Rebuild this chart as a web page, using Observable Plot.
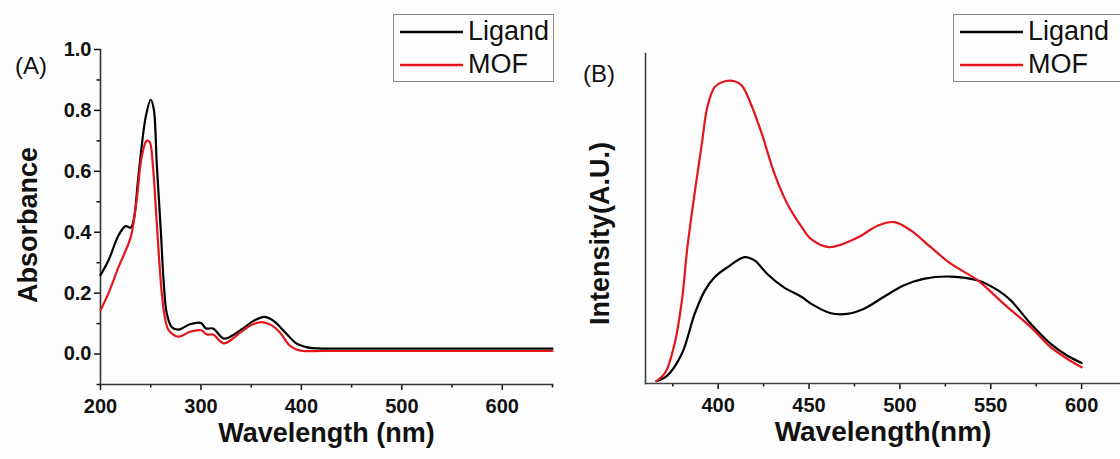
<!DOCTYPE html>
<html>
<head>
<meta charset="utf-8">
<script src="https://cdn.jsdelivr.net/npm/d3@7"></script>
<script src="https://cdn.jsdelivr.net/npm/@observablehq/plot@0.6"></script>
<style>
  html, body { margin: 0; padding: 0; background: #fdfdfd; }
  #wrap { position: relative; width: 1120px; height: 459px; overflow: hidden; background: #fdfdfd; }
  .panel { position: absolute; top: 0; }
  #pa svg g[aria-label$="tick label"], #pa svg g[aria-label$="tick label"] text { font-size: 20px !important; font-weight: bold !important; }
  #pb svg g[aria-label$="tick label"], #pb svg g[aria-label$="tick label"] text { font-size: 20px !important; font-weight: bold !important; }
  .legend { position: absolute; border: 1px solid #888; background: #fdfdfd; font-family: "Liberation Sans", Arial, sans-serif; font-size: 27px; color: #111; box-sizing: border-box; }
  .legend .row { display: flex; align-items: center; height: 33px; }
  .legend svg { margin-right: 5px; }
  .tag { position: absolute; font-family: "Liberation Sans", Arial, sans-serif; font-size: 24px; color: #111; line-height: 1; }
</style>
</head>
<body>
<div id="wrap"></div>
<script>
// ---------- Panel A: UV-Vis absorbance ----------
const ligandAbsWl = [200,208,218,225,230,233,238,245,250,253,256,260,263,266,271,278,289,300,305,312,323,340,352,363,372,385,395,406,420,450,500,550,600,650];
const ligandAbs   = [0.259,0.308,0.39,0.42,0.415,0.44,0.592,0.778,0.835,0.805,0.625,0.407,0.232,0.133,0.088,0.08,0.098,0.102,0.084,0.084,0.051,0.08,0.108,0.122,0.11,0.067,0.035,0.022,0.018,0.018,0.018,0.018,0.018,0.018];
const mofAbsWl = [200,208,218,228,231,236,241,246,249,252,255,258,261,264,268,278,289,300,306,312,323,340,350,360,370,378,388,395,402,420,450,500,550,600,650];
const mofAbs   = [0.144,0.2,0.286,0.363,0.396,0.505,0.647,0.70,0.696,0.625,0.483,0.33,0.2,0.122,0.078,0.057,0.073,0.078,0.064,0.064,0.035,0.073,0.095,0.105,0.095,0.073,0.029,0.015,0.01,0.01,0.01,0.01,0.01,0.01,0.01];
const absXTicks = [200,300,400,500,600];
const absXMinor = [250,350,450,550,650];
const absYTicks = [0.0,0.2,0.4,0.6,0.8,1.0];
const absYMinor = [-0.1,0.1,0.3,0.5,0.7,0.9];

// ---------- Panel B: photoluminescence ----------
const ligandPLWl = [366,372,380,387,392.5,398,405,414.5,420,427,436,446,451,462,471,480,491,502,513,528,543,554,561,572,583,592,600];
const ligandPL   = [0.7,2.4,9,21,28,32.2,35.2,38.3,37.3,33.2,29.2,26.2,24.2,21.3,21.1,22.6,26.2,29.7,31.7,32.4,31.2,28.2,25.2,18.1,12,8.5,6.2];
const mofPLWl = [366,371,376,380,383,387,391,394,398,402,409,413,418,424,431,438,446,451,461,477,488,497,506,517,528,543,557,572,583,592,600];
const mofPL   = [0.7,3.4,12,25,41,57.5,72.6,83.7,89.8,91.3,91.6,90.3,84.7,75.7,63.5,54.5,47.4,43.8,41.3,44.3,47.9,48.9,46.4,41.3,36.3,31.2,24.2,17.1,11,7.5,4.9];
const plXTicks = [400,450,500,550,600];
const plXMinor = [375,425,475,525,575];

const seriesNames = ["Ligand","MOF"];
const seriesColors = ["#000000","#e3161c"];

const toRows = (wl, vals, s) => wl.map((w,i)=>({wl:w, v:vals[i], s}));
const absData = [...toRows(ligandAbsWl, ligandAbs, "Ligand"), ...toRows(mofAbsWl, mofAbs, "MOF")];
const plData  = [...toRows(ligandPLWl, ligandPL, "Ligand"), ...toRows(mofPLWl, mofPL, "MOF")];

const baseStyle = {fontFamily:"'Liberation Sans', Arial, sans-serif", fontSize:"16px", fontWeight:"bold", color:"#111", background:"transparent", overflow:"visible"};

const plotA = Plot.plot({
  width:560, height:459, marginLeft:100, marginRight:8, marginTop:49, marginBottom:75,
  style: baseStyle,
  x:{domain:[200,650], axis:null},
  y:{domain:[-0.1,1.0], axis:null},
  color:{domain:seriesNames, range:seriesColors},
  marks:[
    Plot.axisY({ticks:absYTicks, tickSize:6, tickPadding:3, tickFormat:d=>d.toFixed(1), label:null, strokeWidth:1.5}),
    Plot.axisY({ticks:absYMinor, tickSize:3.5, tickFormat:()=>"", label:null, strokeWidth:1.5}),
    Plot.axisX({ticks:absXTicks, tickSize:6, tickPadding:8, tickFormat:d=>String(d), label:null, strokeWidth:1.5}),
    Plot.axisX({ticks:absXMinor, tickSize:3.5, tickFormat:()=>"", label:null, strokeWidth:1.5}),
    Plot.frame({anchor:"left", stroke:"#333", strokeWidth:1.6}),
    Plot.frame({anchor:"bottom", stroke:"#333", strokeWidth:1.6}),
    Plot.line(absData, {x:"wl", y:"v", z:"s", stroke:"s", strokeWidth:2.2, curve:"catmull-rom"}),
    Plot.text(["Absorbance"], {frameAnchor:"left", textAnchor:"middle", dx:-72, dy:8, rotate:-90, fontSize:27, fontWeight:"bold", fill:"#111"}),
    Plot.text(["Wavelength (nm)"], {frameAnchor:"bottom", dy:57, fontSize:27, fontWeight:"bold", fill:"#111"})
  ]
});

const plotB = Plot.plot({
  width:560, height:459, marginLeft:85, marginRight:0, marginTop:53, marginBottom:76,
  style: baseStyle,
  x:{domain:[360,621.4], axis:null},
  y:{domain:[0,100], axis:null},
  color:{domain:seriesNames, range:seriesColors},
  marks:[
    Plot.axisX({ticks:plXTicks, tickSize:6, tickPadding:8, tickFormat:d=>String(d), label:null, strokeWidth:1.5}),
    Plot.axisX({ticks:plXMinor, tickSize:3.5, tickFormat:()=>"", label:null, strokeWidth:1.5}),
    Plot.frame({anchor:"left", stroke:"#444", strokeWidth:1.6}),
    Plot.frame({anchor:"bottom", stroke:"#444", strokeWidth:1.6}),
    Plot.line(plData, {x:"wl", y:"v", z:"s", stroke:"s", strokeWidth:2.2, curve:"catmull-rom"}),
    Plot.text(["Intensity(A.U.)"], {frameAnchor:"left", textAnchor:"middle", dx:-45, dy:15, rotate:-90, fontSize:27, fontWeight:"bold", fill:"#111"}),
    Plot.text(["Wavelength(nm)"], {frameAnchor:"bottom", dy:57, fontSize:28, fontWeight:"bold", fill:"#111"})
  ]
});

const wrap = document.getElementById("wrap");
function addPanel(svg, left, id) {
  const d = document.createElement("div");
  d.className = "panel"; d.id = id; d.style.left = left + "px";
  d.appendChild(svg); wrap.appendChild(d);
}
addPanel(plotA, 0, "pa");
addPanel(plotB, 560, "pb");

function addLegend(left, top, width) {
  const lg = document.createElement("div");
  lg.className = "legend";
  lg.style.left = left + "px"; lg.style.top = top + "px"; lg.style.width = width + "px";
  lg.style.padding = "0 0 0 6px";
  seriesNames.forEach((name, i) => {
    const row = document.createElement("div"); row.className = "row";
    row.innerHTML = `<svg width="63" height="6"><line x1="0" x2="63" y1="3" y2="3" stroke="${seriesColors[i]}" stroke-width="2.4"/></svg><span>${name}</span>`;
    lg.appendChild(row);
  });
  wrap.appendChild(lg);
}
addLegend(393, 14, 161);
addLegend(953, 14, 175);

function addTag(text, left, top) {
  const t = document.createElement("div"); t.className = "tag";
  t.textContent = text; t.style.left = left + "px"; t.style.top = top + "px";
  wrap.appendChild(t);
}
addTag("(A)", 15, 54);
addTag("(B)", 583, 62);
</script>
</body>
</html>
